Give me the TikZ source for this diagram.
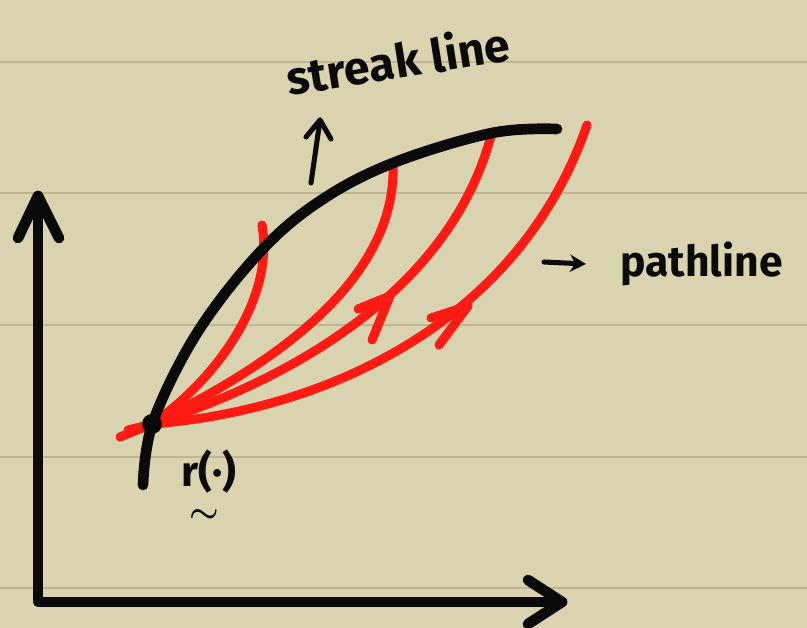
\documentclass[tikz,border=0pt]{standalone}
\usepackage{fontspec}
\setsansfont{Fira Sans}
\usetikzlibrary{arrows.meta}
\definecolor{paper}{HTML}{D9D4AF}
\definecolor{ruleclr}{HTML}{BDB690}
\definecolor{ink}{HTML}{0A0A0A}
\definecolor{marker}{HTML}{FF1A14}
\begin{document}
\begin{tikzpicture}[x=0.75pt,y=-0.75pt,
  ruleline/.style={ruleclr,line width=2.2pt},
  inkline/.style={ink,line width=8pt,line cap=round,line join=round},
  redline/.style={marker,line width=6.8pt,line cap=round,line join=round},
  thinink/.style={ink,line width=3.8pt,line cap=round,line join=round},
  handlabel/.style={font=\sffamily\bfseries\fontsize{35}{42}\selectfont,text=ink,inner sep=0pt}
]
% paper
\fill[paper] (0,0) rectangle (807,628);
\useasboundingbox (0,0) rectangle (807,628);
\foreach \yy in {62,193,325,457,588}
  \draw[ruleline] (0,\yy) -- (807,\yy);

% axes
\coordinate (org) at (38,602);
\coordinate (ytip) at (38,196);
\coordinate (xtip) at (562,602);
\draw[inkline] (ytip) -- (org) -- (xtip);
\draw[inkline] (18,238) -- (ytip) -- (59,238);
\draw[inkline] (528,580) -- (xtip) -- (528,624);

% red pathlines
\coordinate (O) at (152,424);
\coordinate (p1) at (262,225);
\coordinate (p2) at (393,163);
\coordinate (p3) at (492,132);
\coordinate (p4) at (587,125);
\draw[redline] (120,437) -- (O);
\draw[redline] (128,430) -- (O);
\draw[redline] (O) .. controls (215,380) and (275,300) .. (p1);
\draw[redline] (O) .. controls (262,370) and (398,285) .. (p2);
\draw[redline] (O) .. controls (290,380) and (452,290) .. (p3);
\draw[redline] (O) .. controls (330,410) and (520,320) .. (p4);
% arrowheads on pathlines
\draw[redline] (358,309) -- (390,296) -- (372,340);
\draw[redline] (431,318) -- (468,306) -- (439,345);

% streak line
\draw[inkline] plot[smooth,tension=0.6] coordinates
  {(143,485) (153,422) (197,333) (260,252) (320,201) (393,163) (492,133) (557,129)};
\fill[ink] (O) circle (10);

% small arrows
\coordinate (sa0) at (311,183);
\coordinate (sa1) at (320,120);
\draw[thinink] (sa0) -- (sa1);
\draw[thinink] (306,137) -- (sa1) -- (331,139);
\coordinate (pa0) at (544,262);
\coordinate (pa1) at (586,264);
\draw[thinink,-{Stealth[length=12pt,width=13pt]}] (pa0) -- (pa1);

% labels
\node[handlabel,rotate=9] (streak) at (398,60) {streak line};
\node[handlabel,anchor=west,font=\sffamily\bfseries\fontsize{32}{40}\selectfont] (path) at (620,264) {pathline};
\node[font=\sffamily\bfseries\fontsize{32}{38}\selectfont,text=ink,inner sep=0pt] (rlabel) at (209,472) {r(·)};
\node[font=\boldmath\fontsize{30}{36}\selectfont,text=ink,inner sep=0pt] (tilde) at (204,516) {$\sim$};
\end{tikzpicture}
\end{document}
